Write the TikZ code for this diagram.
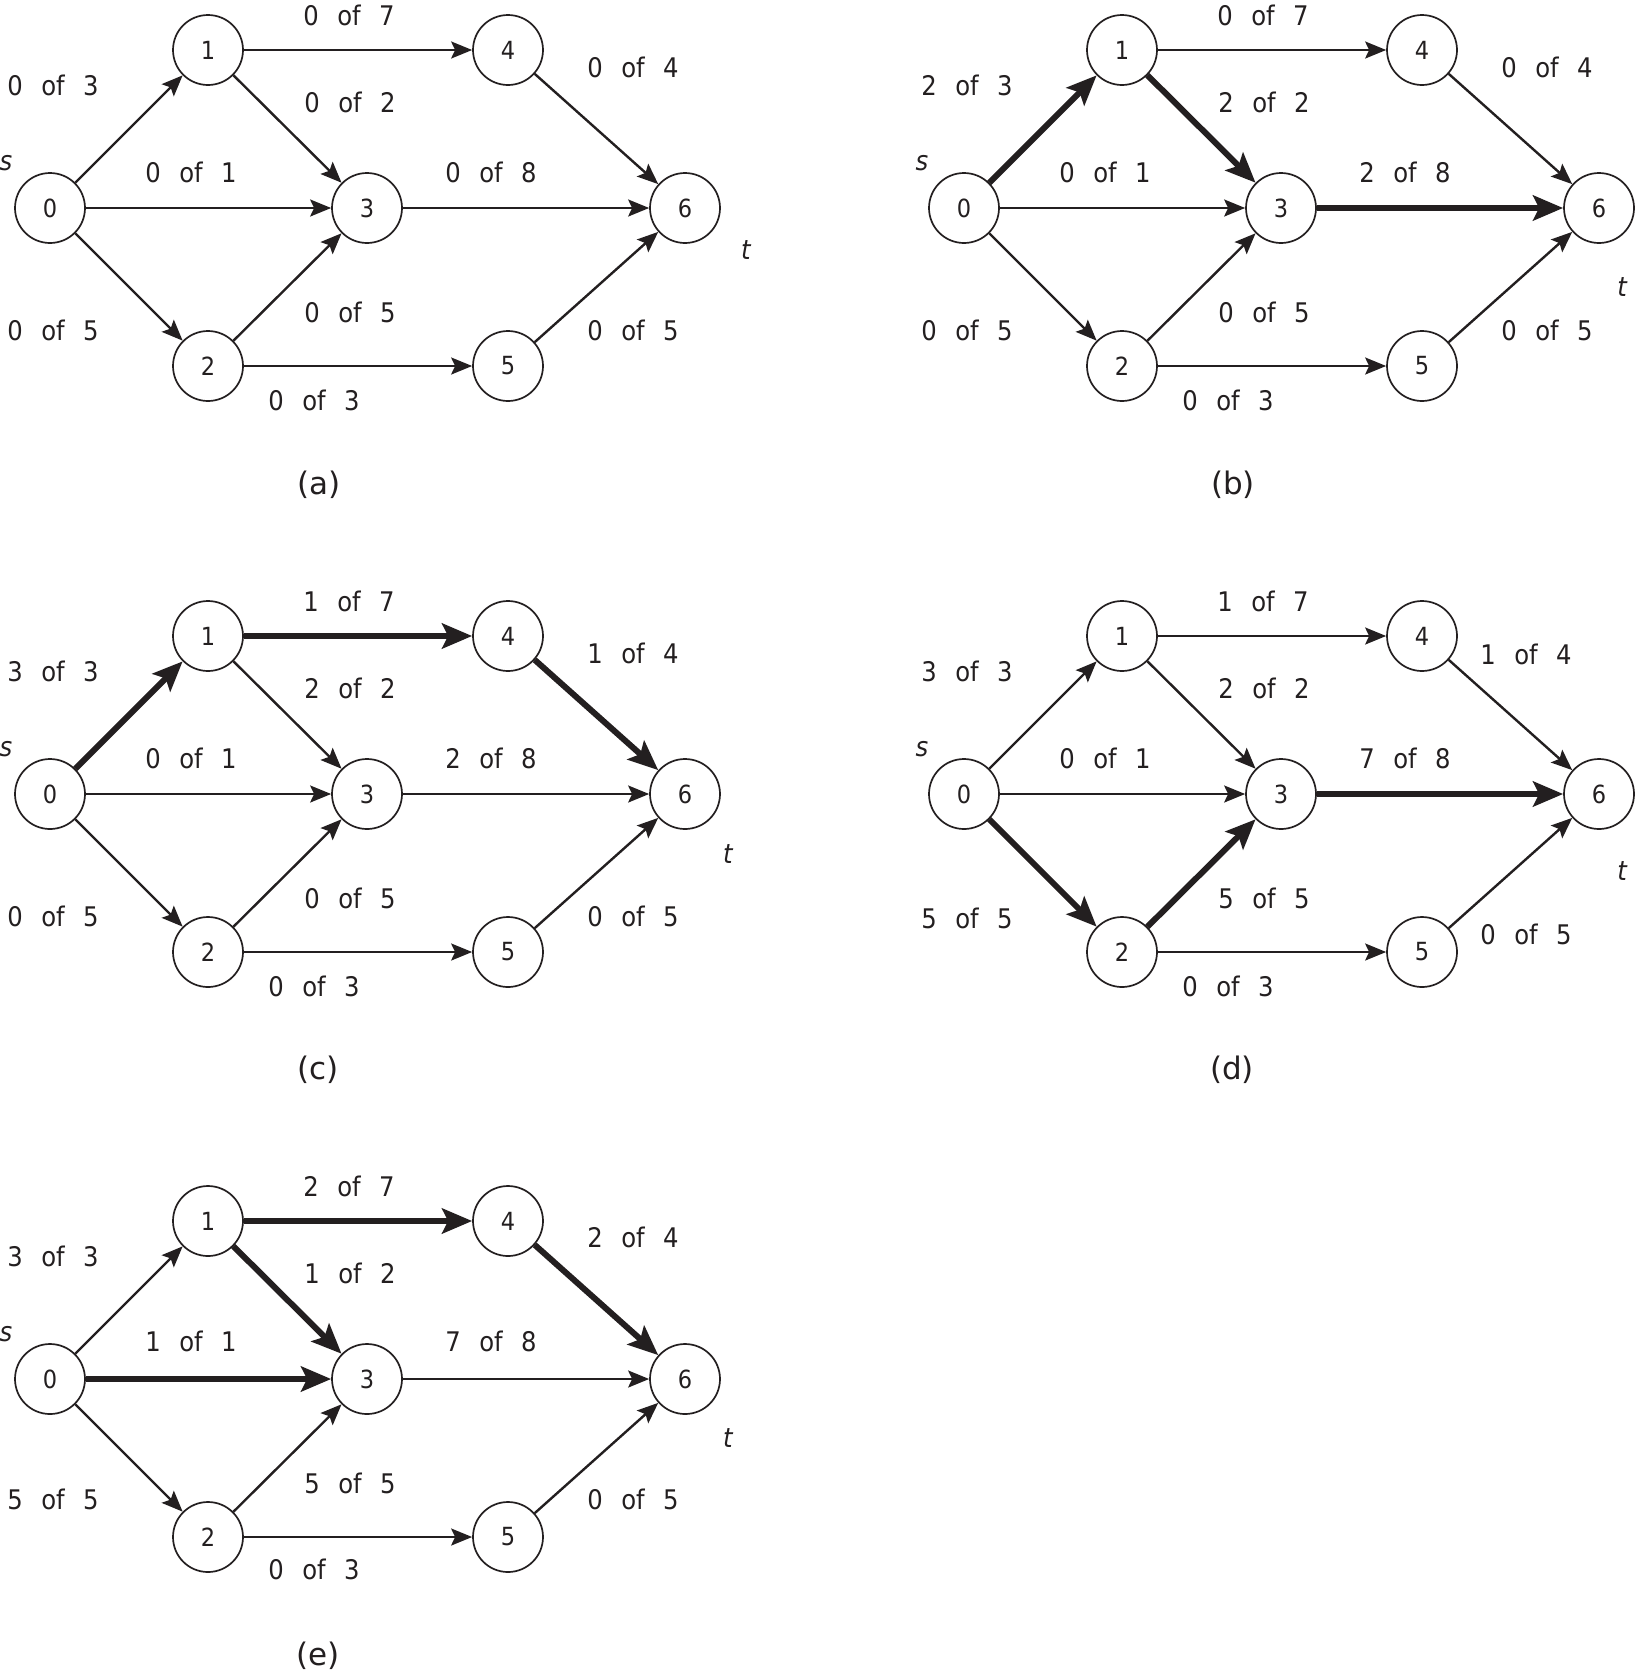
\documentclass[tikz,border=0pt]{standalone}
\usepackage{fontspec}
\usetikzlibrary{arrows.meta}
\newfontfamily\lblfont[WordSpace=2.4]{DejaVu Sans Condensed}
\newfontfamily\capfont{DejaVu Sans}
\newcommand\lbl{\lblfont\fontsize{27}{30}\selectfont}
\newcommand\vlbl{\lblfont\fontsize{25}{28}\selectfont}
\newcommand\clbl{\capfont\fontsize{31}{34}\selectfont}
\definecolor{ink}{HTML}{231F20}
\tikzset{
  vert/.style={circle, draw=ink, line width=1.7pt, minimum size=70pt, inner sep=0pt, font=\vlbl, text=ink},
  edge/.style={draw=ink, line width=2.4pt, -{Stealth[length=21pt,width=17pt,inset=4pt]}},
  flow/.style={draw=ink, line width=6pt, -{Stealth[length=30pt,width=25pt,inset=6pt]}},
  lab/.style={font=\lbl, text=ink, inner sep=0pt},
  captxt/.style={font=\clbl, text=ink, inner sep=0pt},
}
\newcommand\vertices{%
  \node[vert] (n0) at (50,208) {0};
  \node[vert] (n1) at (208,50) {1};
  \node[vert] (n2) at (208,366) {2};
  \node[vert] (n3) at (367,208) {3};
  \node[vert] (n4) at (508,50) {4};
  \node[vert] (n5) at (508,366) {5};
  \node[vert] (n6) at (685,208) {6};
}
\begin{document}
\begin{tikzpicture}[x=1pt,y=-1pt]
\useasboundingbox (0,0) rectangle (1634,1674);
% ---------------- (a)
\begin{scope}[name prefix=a-]
\vertices
\draw[edge] (n0) -- (n1);
\draw[edge] (n0) -- (n3);
\draw[edge] (n0) -- (n2);
\draw[edge] (n1) -- (n4);
\draw[edge] (n1) -- (n3);
\draw[edge] (n2) -- (n3);
\draw[edge] (n2) -- (n5);
\draw[edge] (n4) -- (n6);
\draw[edge] (n3) -- (n6);
\draw[edge] (n5) -- (n6);
\node[lab] (l01) at (53,85) {0 of 3};
\node[lab] (l02) at (53,330) {0 of 5};
\node[lab] (l14) at (349,15) {0 of 7};
\node[lab] (l13) at (350,102) {0 of 2};
\node[lab] (l03) at (191,172) {0 of 1};
\node[lab] (l36) at (491,172) {0 of 8};
\node[lab] (l46) at (633,67) {0 of 4};
\node[lab] (l23) at (350,312) {0 of 5};
\node[lab] (l56) at (633,330) {0 of 5};
\node[lab] (l25) at (314,400) {0 of 3};
\node[lab] (s) at (6,163) {\itshape s};
\node[lab] (t) at (746,250) {\itshape t};
\node[captxt] (c) at (319,485) {(a)};
\end{scope}
% ---------------- (b)
\begin{scope}[shift={(914,0)}, name prefix=b-]
\vertices
\draw[flow] (n0) -- (n1);
\draw[edge] (n0) -- (n3);
\draw[edge] (n0) -- (n2);
\draw[edge] (n1) -- (n4);
\draw[flow] (n1) -- (n3);
\draw[edge] (n2) -- (n3);
\draw[edge] (n2) -- (n5);
\draw[edge] (n4) -- (n6);
\draw[flow] (n3) -- (n6);
\draw[edge] (n5) -- (n6);
\node[lab] (l01) at (53,85) {2 of 3};
\node[lab] (l02) at (53,330) {0 of 5};
\node[lab] (l14) at (349,15) {0 of 7};
\node[lab] (l13) at (350,102) {2 of 2};
\node[lab] (l03) at (191,172) {0 of 1};
\node[lab] (l36) at (491,172) {2 of 8};
\node[lab] (l46) at (633,67) {0 of 4};
\node[lab] (l23) at (350,312) {0 of 5};
\node[lab] (l56) at (633,330) {0 of 5};
\node[lab] (l25) at (314,400) {0 of 3};
\node[lab] (s) at (8,163) {\itshape s};
\node[lab] (t) at (708,287) {\itshape t};
\node[captxt] (c) at (319,485) {(b)};
\end{scope}
% ---------------- (c)
\begin{scope}[shift={(0,586)}, name prefix=c-]
\vertices
\draw[flow] (n0) -- (n1);
\draw[edge] (n0) -- (n3);
\draw[edge] (n0) -- (n2);
\draw[flow] (n1) -- (n4);
\draw[edge] (n1) -- (n3);
\draw[edge] (n2) -- (n3);
\draw[edge] (n2) -- (n5);
\draw[flow] (n4) -- (n6);
\draw[edge] (n3) -- (n6);
\draw[edge] (n5) -- (n6);
\node[lab] (l01) at (53,85) {3 of 3};
\node[lab] (l02) at (53,330) {0 of 5};
\node[lab] (l14) at (349,15) {1 of 7};
\node[lab] (l13) at (350,102) {2 of 2};
\node[lab] (l03) at (191,172) {0 of 1};
\node[lab] (l36) at (491,172) {2 of 8};
\node[lab] (l46) at (633,67) {1 of 4};
\node[lab] (l23) at (350,312) {0 of 5};
\node[lab] (l56) at (633,330) {0 of 5};
\node[lab] (l25) at (314,400) {0 of 3};
\node[lab] (s) at (6,163) {\itshape s};
\node[lab] (t) at (728,268) {\itshape t};
\node[captxt] (c) at (318,484) {(c)};
\end{scope}
% ---------------- (d)
\begin{scope}[shift={(914,586)}, name prefix=d-]
\vertices
\draw[edge] (n0) -- (n1);
\draw[edge] (n0) -- (n3);
\draw[flow] (n0) -- (n2);
\draw[edge] (n1) -- (n4);
\draw[edge] (n1) -- (n3);
\draw[flow] (n2) -- (n3);
\draw[edge] (n2) -- (n5);
\draw[edge] (n4) -- (n6);
\draw[flow] (n3) -- (n6);
\draw[edge] (n5) -- (n6);
\node[lab] (l01) at (53,85) {3 of 3};
\node[lab] (l02) at (53,332) {5 of 5};
\node[lab] (l14) at (349,15) {1 of 7};
\node[lab] (l13) at (350,102) {2 of 2};
\node[lab] (l03) at (191,172) {0 of 1};
\node[lab] (l36) at (491,172) {7 of 8};
\node[lab] (l46) at (612,68) {1 of 4};
\node[lab] (l23) at (350,312) {5 of 5};
\node[lab] (l56) at (612,348) {0 of 5};
\node[lab] (l25) at (314,400) {0 of 3};
\node[lab] (s) at (8,163) {\itshape s};
\node[lab] (t) at (708,285) {\itshape t};
\node[captxt] (c) at (318,484) {(d)};
\end{scope}
% ---------------- (e)
\begin{scope}[shift={(0,1171)}, name prefix=e-]
\vertices
\draw[edge] (n0) -- (n1);
\draw[flow] (n0) -- (n3);
\draw[edge] (n0) -- (n2);
\draw[flow] (n1) -- (n4);
\draw[flow] (n1) -- (n3);
\draw[edge] (n2) -- (n3);
\draw[edge] (n2) -- (n5);
\draw[flow] (n4) -- (n6);
\draw[edge] (n3) -- (n6);
\draw[edge] (n5) -- (n6);
\node[lab] (l01) at (53,85) {3 of 3};
\node[lab] (l02) at (53,328) {5 of 5};
\node[lab] (l14) at (349,15) {2 of 7};
\node[lab] (l13) at (350,102) {1 of 2};
\node[lab] (l03) at (191,170) {1 of 1};
\node[lab] (l36) at (491,170) {7 of 8};
\node[lab] (l46) at (633,66) {2 of 4};
\node[lab] (l23) at (350,312) {5 of 5};
\node[lab] (l56) at (633,328) {0 of 5};
\node[lab] (l25) at (314,398) {0 of 3};
\node[lab] (s) at (6,163) {\itshape s};
\node[lab] (t) at (728,267) {\itshape t};
\node[captxt] (c) at (318,485) {(e)};
\end{scope}
\end{tikzpicture}
\end{document}
